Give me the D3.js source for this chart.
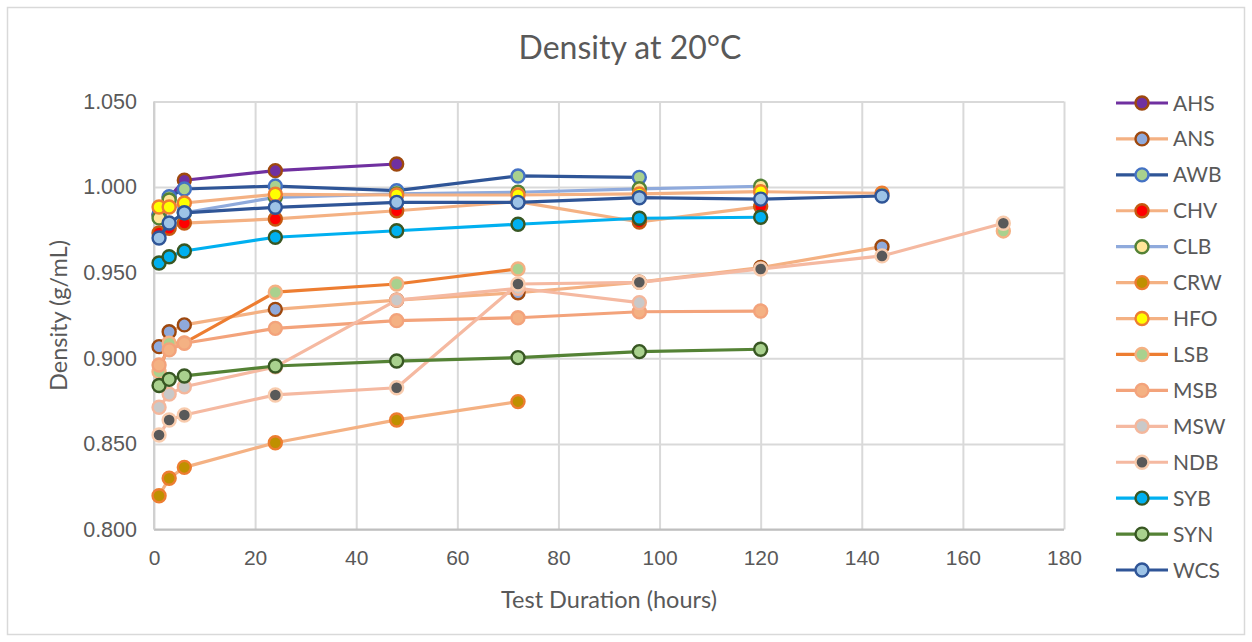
<!DOCTYPE html>
<html>
<head>
<meta charset="utf-8">
<script src="https://cdn.jsdelivr.net/npm/d3@7/dist/d3.min.js"></script>
<style>
  html, body { margin: 0; padding: 0; background: #fff; }
  svg { display: block; font-family: Lato, "Open Sans", sans-serif; }
</style>
</head>
<body>
<svg id="chart" width="1252" height="642"></svg>
<script>
// Sampling times (hours)
const hours = [1, 3, 6, 24, 48, 72, 96, 120, 144, 168];

// Density at 20°C (g/mL) per fuel, aligned with `hours`; null = not measured
const AHS = [0.984, 0.994, 1.004, 1.0096, 1.0135, null, null, null, null, null];
const ANS = [0.9068, 0.9155, 0.9195, 0.9286, 0.934, 0.9383, 0.9445, 0.953, 0.9652, null];
const AWB = [0.984, 0.9944, 0.9989, 1.0006, 0.9979, 1.0065, 1.0057, null, null, null];
const CHV = [0.9732, 0.976, 0.979, 0.9814, 0.9862, 0.9915, 0.9796, 0.9886, null, null];
const CLB = [0.982, 0.9925, 0.985, 0.994, 0.996, 0.997, 0.999, 1.0005, null, null];
const CRW = [0.8197, 0.8299, 0.8363, 0.8507, 0.864, 0.8747, null, null, null, null];
const HFO = [0.9884, 0.9884, 0.9907, 0.9958, 0.9954, 0.9954, 0.996, 0.9973, 0.9964, null];
const LSB = [0.8922, 0.9088, 0.909, 0.9386, 0.9434, 0.9522, null, null, null, 0.9744];
const MSB = [0.8961, 0.9049, 0.9088, 0.9175, 0.922, 0.9237, 0.9272, 0.9276, null, null];
const MSW = [0.8714, 0.8791, 0.8834, 0.895, 0.934, 0.9409, 0.9325, null, null, null];
const NDB = [0.8552, 0.864, 0.8669, 0.8786, 0.8828, 0.9434, 0.9444, 0.9522, 0.9598, 0.9789];
const SYB = [0.9557, 0.9593, 0.9627, 0.9707, 0.9745, 0.9783, 0.9818, 0.9824, null, null];
const SYN = [0.8841, 0.8877, 0.8897, 0.8955, 0.8984, 0.9004, 0.9039, 0.9053, null, null];
const WCS = [0.9703, 0.979, 0.985, 0.9882, 0.9911, 0.9911, 0.9938, 0.993, 0.9948, null];

const seriesNames = ["AHS", "ANS", "AWB", "CHV", "CLB", "CRW", "HFO", "LSB", "MSB", "MSW", "NDB", "SYB", "SYN", "WCS"];
const seriesValues = [AHS, ANS, AWB, CHV, CLB, CRW, HFO, LSB, MSB, MSW, NDB, SYB, SYN, WCS];

// Axis ticks
const xTicks = [0, 20, 40, 60, 80, 100, 120, 140, 160, 180];
const yTicks = [0.80, 0.85, 0.90, 0.95, 1.00, 1.05];

// Styling per series: line colour, marker fill, marker outline
const styles = {
  AHS: { line: "#7030a0", fill: "#7030a0", stroke: "#9e480e" },
  ANS: { line: "#f4b183", fill: "#8faadc", stroke: "#9e480e" },
  AWB: { line: "#2f5597", fill: "#a9d18e", stroke: "#4472c4" },
  CHV: { line: "#f4b183", fill: "#ff0000", stroke: "#c55a11" },
  CLB: { line: "#8faadc", fill: "#ffe699", stroke: "#548235" },
  CRW: { line: "#f4b183", fill: "#bf9000", stroke: "#ed7d31" },
  HFO: { line: "#f4b183", fill: "#ffff00", stroke: "#ed7d31" },
  LSB: { line: "#ed7d31", fill: "#a9d18e", stroke: "#f4b183" },
  MSB: { line: "#f3a37b", fill: "#f4b183", stroke: "#f3a37b" },
  MSW: { line: "#f5b9a1", fill: "#c9c9c9", stroke: "#f4b79c" },
  NDB: { line: "#f5b9a1", fill: "#595959", stroke: "#f8cbad" },
  SYB: { line: "#00b0f0", fill: "#00b0f0", stroke: "#385723" },
  SYN: { line: "#548235", fill: "#a9d18e", stroke: "#385723" },
  WCS: { line: "#2f5597", fill: "#9dc3e6", stroke: "#2f5597" }
};

const textColor = "#595959";
const svg = d3.select("#chart");

// chart frame
svg.append("rect")
  .attr("x", 7.5).attr("y", 7.5).attr("width", 1237).attr("height", 627)
  .attr("fill", "#fff").attr("stroke", "#d9d9d9").attr("stroke-width", 1.5);

const plot = { left: 154, right: 1064, top: 101.5, bottom: 529.5 };

const x = d3.scaleLinear().domain([0, 180]).range([plot.left, plot.right]);
const y = d3.scaleLinear().domain([0.80, 1.05]).range([plot.bottom, plot.top]);

// vertical gridlines + x tick labels
const xAxis = svg.append("g")
  .attr("transform", `translate(0,${plot.bottom})`)
  .call(d3.axisBottom(x).tickValues(xTicks).tickFormat(d3.format("d"))
    .tickSizeInner(-(plot.bottom - plot.top)).tickSizeOuter(0).tickPadding(21));
xAxis.select(".domain").remove();
xAxis.selectAll(".tick line").attr("stroke", "#d9d9d9").attr("stroke-width", 2);
xAxis.selectAll(".tick text").attr("fill", textColor).style("font-size", "21px");

// horizontal gridlines + y tick labels
const yAxis = svg.append("g")
  .attr("transform", `translate(${plot.left},0)`)
  .call(d3.axisLeft(y).tickValues(yTicks).tickFormat(d3.format(".3f"))
    .tickSizeInner(-(plot.right - plot.left)).tickSizeOuter(0).tickPadding(17));
yAxis.select(".domain").remove();
yAxis.selectAll(".tick line").attr("stroke", "#d9d9d9").attr("stroke-width", 2);
yAxis.selectAll(".tick text").attr("fill", textColor).style("font-size", "21.5px");

// axis lines
svg.append("line")
  .attr("x1", plot.left).attr("x2", plot.right)
  .attr("y1", plot.bottom).attr("y2", plot.bottom)
  .attr("stroke", "#bfbfbf").attr("stroke-width", 2);
svg.append("line")
  .attr("x1", plot.left).attr("x2", plot.left)
  .attr("y1", plot.top).attr("y2", plot.bottom)
  .attr("stroke", "#d0d0d0").attr("stroke-width", 2);

// titles
svg.append("text")
  .attr("x", 630).attr("y", 59)
  .attr("text-anchor", "middle")
  .attr("fill", textColor).style("font-size", "32px")
  .text("Density at 20°C");

svg.append("text")
  .attr("x", 609).attr("y", 608)
  .attr("text-anchor", "middle")
  .attr("fill", textColor).style("font-size", "23.5px")
  .text("Test Duration (hours)");

svg.append("text")
  .attr("transform", `translate(67,${(plot.top + plot.bottom) / 2}) rotate(-90)`)
  .attr("text-anchor", "middle")
  .attr("fill", textColor).style("font-size", "23.5px")
  .text("Density (g/mL)");

// series: line then markers, drawn in legend order
const line = d3.line()
  .defined(d => d.v !== null)
  .x(d => x(d.h))
  .y(d => y(d.v));

const seriesG = svg.append("g");
seriesNames.forEach((name, i) => {
  const pts = hours.map((h, k) => ({ h, v: seriesValues[i][k] }));
  const st = styles[name];
  const g = seriesG.append("g");
  g.append("path")
    .datum(pts)
    .attr("d", line)
    .attr("fill", "none")
    .attr("stroke", st.line)
    .attr("stroke-width", 3.2)
    .attr("stroke-linejoin", "round");
  g.selectAll("circle")
    .data(pts.filter(d => d.v !== null))
    .join("circle")
    .attr("cx", d => x(d.h))
    .attr("cy", d => y(d.v))
    .attr("r", 6.5)
    .attr("fill", st.fill)
    .attr("stroke", st.stroke)
    .attr("stroke-width", 2.4);
});

// legend
const legend = svg.append("g");
const legendY = d3.scalePoint().domain(seriesNames).range([103, 570]);
seriesNames.forEach(name => {
  const st = styles[name];
  const ly = legendY(name);
  legend.append("line")
    .attr("x1", 1116).attr("x2", 1168).attr("y1", ly).attr("y2", ly)
    .attr("stroke", st.line).attr("stroke-width", 3.2);
  legend.append("circle")
    .attr("cx", 1142).attr("cy", ly).attr("r", 6.5)
    .attr("fill", st.fill).attr("stroke", st.stroke).attr("stroke-width", 2.4);
  legend.append("text")
    .attr("x", 1173).attr("y", ly)
    .attr("dy", "0.36em")
    .attr("fill", textColor).style("font-size", "21px")
    .text(name);
});
</script>
</body>
</html>
